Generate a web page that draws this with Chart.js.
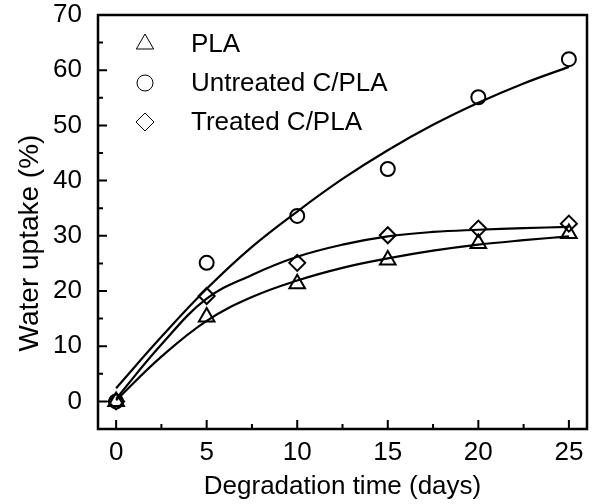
<!DOCTYPE html>
<html>
<head>
<meta charset="utf-8">
<script src="https://cdn.jsdelivr.net/npm/chart.js@4"></script>
<style>
  html, body { margin: 0; padding: 0; background: #fff; }
  #wrap { width: 598px; height: 504px; }
</style>
</head>
<body>
<div id="wrap"><canvas id="chart" width="598" height="504"></canvas></div>
<script>
// measured points
const days = [0, 5, 10, 15, 20, 25]
const pla = [0, 15.3, 21.3, 25.6, 28.6, 30.4]
const untreated = [0, 25.1, 33.6, 42.1, 55.1, 62.0]
const treated = [0, 19.1, 25.1, 30.1, 31.3, 32.2]

// fitted curves
const fitDays = [0, 2.5, 5, 7.5, 10, 12.5, 15, 17.5, 20, 22.5, 25]
const plaFit = [0.2, 8.1, 14.6, 18.9, 21.9, 24.2, 25.9, 27.3, 28.4, 29.2, 29.9]
const untreatedFit = [2.4, 11.7, 20.4, 28.0, 34.4, 40.3, 45.5, 50.1, 54.1, 57.6, 60.6]
const treatedFit = [0.5, 10.3, 18.6, 22.9, 26.2, 28.4, 29.9, 30.7, 31.1, 31.4, 31.6]

const xTicks = [0, 5, 10, 15, 20, 25]
const xMinor = [2.5, 7.5, 12.5, 17.5, 22.5]
const yTicks = [0, 10, 20, 30, 40, 50, 60, 70]
const yMinor = [5, 15, 25, 35, 45, 55, 65]

const legendNames = ['PLA', 'Untreated C/PLA', 'Treated C/PLA']
const legendStyles = ['triangle', 'circle', 'rectRot']
const legendSizes = [10, 8, 9]
const yTitle = 'Water uptake (%)'

const FONT = "'Liberation Sans', Arial, sans-serif"

const toXY = (xs, ys) => xs.map((x, i) => ({ x: x, y: ys[i] }))

function fitSet(ys) {
  return {
    data: toXY(fitDays, ys),
    showLine: true,
    borderColor: '#000',
    borderWidth: 2.2,
    pointRadius: 0,
    tension: 0.4,
    fill: false
  }
}

function markSet(ys, style, r) {
  return {
    data: toXY(days, ys),
    showLine: false,
    pointStyle: style,
    pointRadius: r,
    pointBorderWidth: 2,
    pointBorderColor: '#000',
    pointBackgroundColor: 'rgba(255,255,255,0)'
  }
}

// frame, inward tick marks and the y title
const framePlugin = {
  id: 'frame',
  afterDraw(chart) {
    const { ctx, chartArea: a, scales } = chart
    ctx.save()
    ctx.strokeStyle = '#000'
    ctx.lineWidth = 2.5
    ctx.strokeRect(a.left, a.top, a.right - a.left, a.bottom - a.top)
    ctx.lineWidth = 2
    ctx.beginPath()
    xTicks.forEach(v => {
      const px = scales.x.getPixelForValue(v)
      ctx.moveTo(px, a.bottom); ctx.lineTo(px, a.bottom - 9)
    })
    xMinor.forEach(v => {
      const px = scales.x.getPixelForValue(v)
      ctx.moveTo(px, a.bottom); ctx.lineTo(px, a.bottom - 5)
    })
    yTicks.forEach(v => {
      const py = scales.y.getPixelForValue(v)
      ctx.moveTo(a.left, py); ctx.lineTo(a.left + 9, py)
    })
    yMinor.forEach(v => {
      const py = scales.y.getPixelForValue(v)
      ctx.moveTo(a.left, py); ctx.lineTo(a.left + 5, py)
    })
    ctx.stroke()

    ctx.translate(30, 243)
    ctx.rotate(-Math.PI / 2)
    ctx.font = '28px ' + FONT
    ctx.fillStyle = '#000'
    ctx.textAlign = 'center'
    ctx.textBaseline = 'middle'
    ctx.fillText(yTitle, 0, 0)
    ctx.restore()
  }
}

// legend inside the plot
const legendPlugin = {
  id: 'innerLegend',
  afterDraw(chart) {
    const ctx = chart.ctx
    ctx.save()
    ctx.textBaseline = 'middle'
    legendNames.forEach((name, i) => {
      const y = 44 + i * 39
      ctx.fillStyle = '#fff'
      ctx.strokeStyle = '#000'
      Chart.helpers.drawPoint(ctx, {
        pointStyle: legendStyles[i],
        radius: legendSizes[i],
        rotation: 0,
        borderWidth: 2
      }, 145, y)
      ctx.fillStyle = '#000'
      ctx.font = '26px ' + FONT
      ctx.fillText(name, 191, y + 1)
    })
    ctx.restore()
  }
}

new Chart(document.getElementById('chart'), {
  type: 'scatter',
  data: {
    datasets: [
      fitSet(plaFit), fitSet(untreatedFit), fitSet(treatedFit),
      markSet(pla, 'triangle', 9), markSet(untreated, 'circle', 7), markSet(treated, 'rectRot', 8)
    ]
  },
  options: {
    responsive: false,
    animation: false,
    layout: { padding: { top: 15, right: 7, left: 0, bottom: 0 } },
    plugins: { legend: { display: false }, tooltip: { enabled: false } },
    scales: {
      x: {
        type: 'linear',
        min: -1,
        max: 26,
        afterBuildTicks: s => { s.ticks = xTicks.map(v => ({ value: v })) },
        afterFit: s => { s.height = 75; s.paddingLeft = 0; s.paddingRight = 0 },
        grid: { display: false },
        border: { display: false },
        ticks: { color: '#000', font: { family: FONT, size: 26 }, padding: 0, maxRotation: 0 },
        title: {
          display: true,
          text: 'Degradation time (days)',
          color: '#000',
          font: { family: FONT, size: 26 },
          padding: { top: 0, bottom: 2 }
        }
      },
      y: {
        min: -5,
        max: 70,
        afterBuildTicks: s => { s.ticks = yTicks.map(v => ({ value: v })) },
        afterFit: s => { s.width = 98; s.paddingTop = 0; s.paddingBottom = 0 },
        grid: { display: false },
        border: { display: false },
        ticks: { color: '#000', font: { family: FONT, size: 26 }, padding: 8 }
      }
    }
  },
  plugins: [framePlugin, legendPlugin]
})
</script>
</body>
</html>
